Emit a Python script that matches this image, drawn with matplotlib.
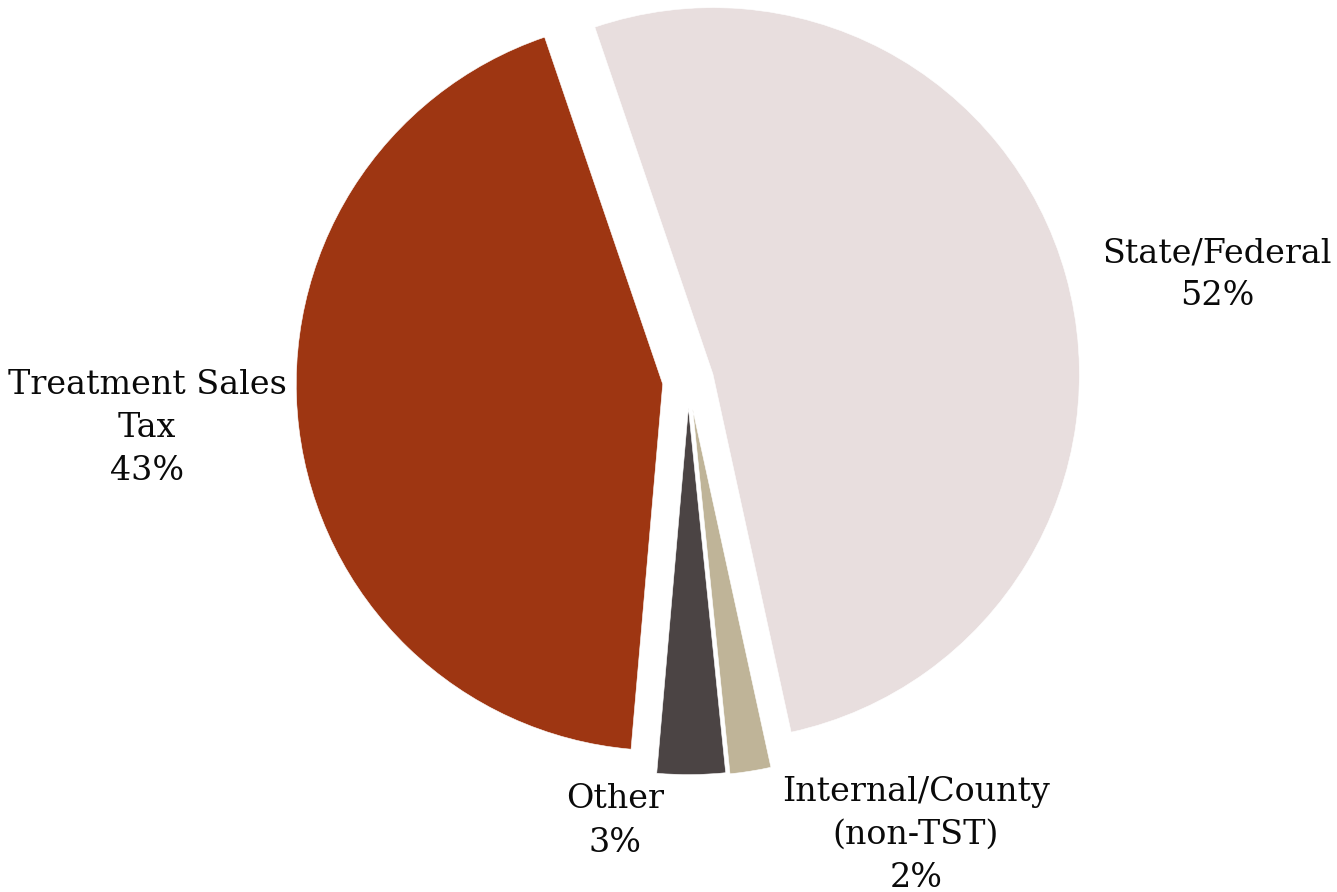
import matplotlib.pyplot as plt
import numpy as np

labels = ["State/Federal", "Internal/County\n(non-TST)", "Other", "Treatment Sales\nTax"]
shares = [51.8, 1.8, 3.0, 43.4]
colors = ["#E8DEDE", "#BFB498", "#4B4444", "#9E3612"]
explode = [0.070, 0.078, 0.074, 0.070]

# layout in pixels of the reference
W, H = 1337, 892
R = 366.5
cx, cy = 688.2, 381.0
label_px = [(1217, 275), (916, 835), (615, 821), (147, 428)]

fig = plt.figure(figsize=(W / 100, H / 100), dpi=100)
ax = fig.add_axes([0, 0, 1, 1])

wedges, _ = ax.pie(shares, colors=colors, explode=explode, startangle=108.8,
                   counterclock=False, radius=1.0,
                   wedgeprops=dict(edgecolor="white", linewidth=0.4))

ax.set_xlim(-cx / R, (W - cx) / R)
ax.set_ylim(-(H - cy) / R, cy / R)
ax.axis("off")

for lab, val, (px, py) in zip(labels, shares, label_px):
    ax.text((px - cx) / R, (cy - py) / R, f"{lab}\n{round(val)}%", ha="center", va="center",
            fontsize=24, family="DejaVu Serif", linespacing=1.44, color="#0a0a0a")

fig.savefig("out.png", dpi=100)
